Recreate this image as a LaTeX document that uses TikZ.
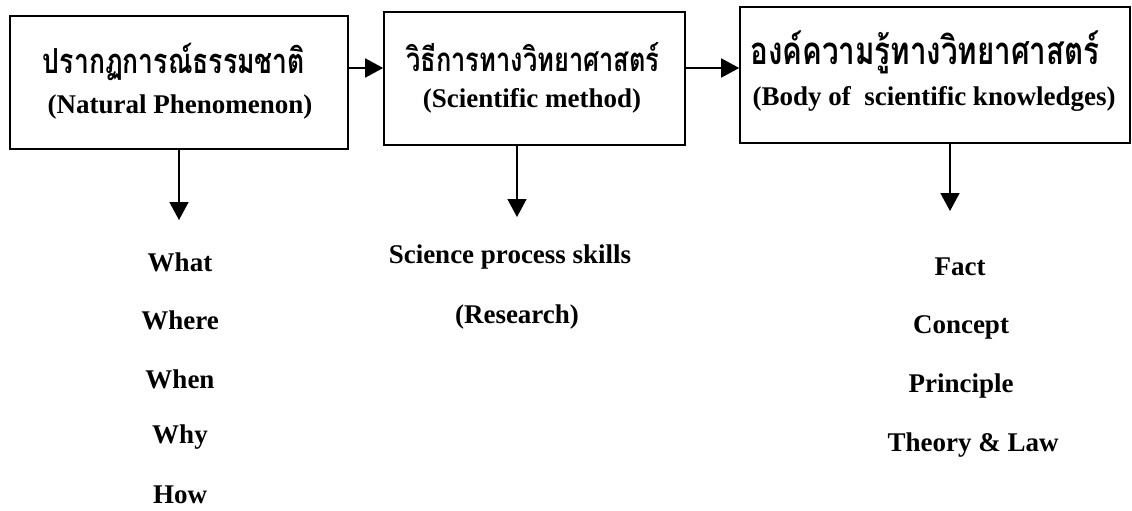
\documentclass[tikz,border=0pt]{standalone}
\usepackage{fontspec}
\setmainfont{Liberation Serif}
\newfontfamily\thaifont[Script=Thai]{Loma}
\usetikzlibrary{arrows.meta}
\newcommand{\thaitext}[2]{\scalebox{1}[1.3]{\resizebox{#1}{!}{\thaifont\bfseries #2}}}
\begin{document}
\begin{tikzpicture}[x=1pt,y=-1pt,
  box/.style={draw,line width=1.6pt,inner sep=0pt},
  arr/.style={line width=1.6pt,-{Triangle[width=19pt,length=18pt]}},
  en/.style={inner sep=0pt,font=\fontsize{27}{32}\selectfont\bfseries},
  th/.style={inner sep=0pt}]
\useasboundingbox (0,0) rectangle (1132,511);
% boxes
\node[box,minimum width=338pt,minimum height=133pt] (b1) at (179,82.5) {};
\node[box,minimum width=301pt,minimum height=133pt] (b2) at (534.5,78.5) {};
\node[box,minimum width=390pt,minimum height=136pt] (b3) at (935,75) {};
% box texts
\node[th] (t1) at (174,62) {\thaitext{262pt}{ปรากฏการณ์ธรรมชาติ}};
\node[en] (e1) at (180,107) {(Natural Phenomenon)};
\node[th] (t2) at (533,57) {\thaitext{253pt}{วิธีการทางวิทยาศาสตร์}};
\node[en] (e2) at (532,101) {(Scientific method)};
\node[th] (t3) at (925,52) {\thaitext{349pt}{องค์ความรู้ทางวิทยาศาสตร์}};
\node[en] (e3) at (934,99) {(Body of\ \ scientific knowledges)};
% horizontal arrows
\coordinate (h1) at ([yshift=14.5pt]b1.east);
\coordinate (h2) at ([yshift=10.5pt]b2.east);
\draw[arr] (h1) -- (h1 -| b2.west);
\draw[arr] (h2) -- (h2 -| b3.west);
% down arrows
\coordinate (d1) at (179,220);
\coordinate (d2) at (517,217);
\coordinate (d3) at (950,211);
\draw[arr] (b1.south -| d1) -- (d1);
\draw[arr] (b2.south -| d2) -- (d2);
\draw[arr] (b3.south -| d3) -- (d3);
% lists
\node[en] (w1) at (180,262) {What};
\node[en] (w2) at (180,320) {Where};
\node[en] (w3) at (180,379) {When};
\node[en] (w4) at (180,437) {Why};
\node[en] (w5) at (180,495) {How};
\node[en] (s1) at (510,257) {Science process skills};
\node[en] (s2) at (517,317) {(Research)};
\node[en] (k1) at (960,267) {Fact};
\node[en] (k2) at (961,327) {Concept};
\node[en] (k3) at (961,386) {Principle};
\node[en] (k4) at (973,445) {Theory \& Law};
\end{tikzpicture}
\end{document}
